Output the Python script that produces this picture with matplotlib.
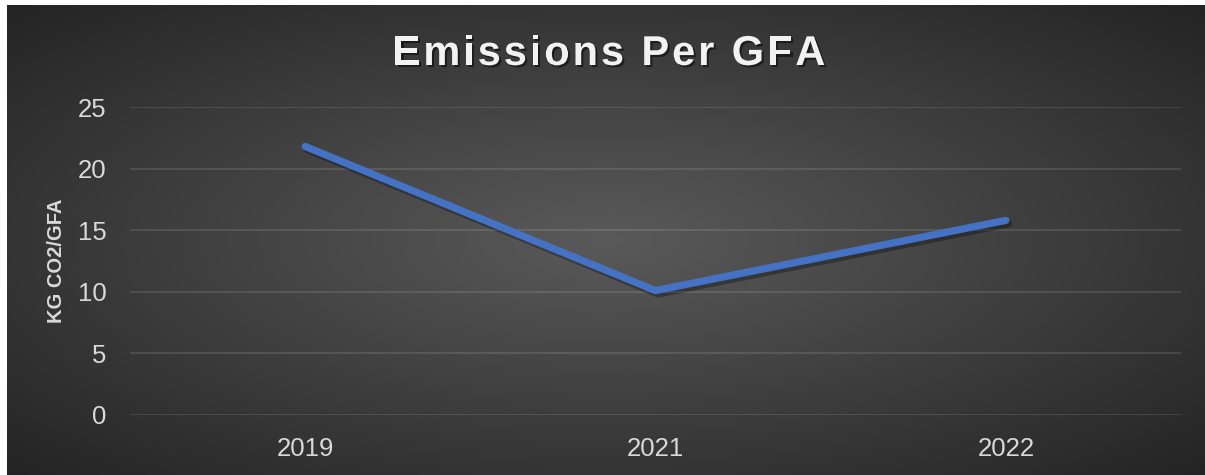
import numpy as np
import matplotlib
matplotlib.use("Agg")
import matplotlib.pyplot as plt
import matplotlib.patheffects as pe
from matplotlib import font_manager as fm
from matplotlib.font_manager import FontProperties

plt.rcParams["font.family"] = ["Liberation Sans", "DejaVu Sans"]

# Data
years = ["2019", "2021", "2022"]
emissions = [21.8, 10.1, 15.8]
y_ticks = [0, 5, 10, 15, 20, 25]
title = "Emissions Per GFA"

W, H = 1205, 475
DPI = 100
fig = plt.figure(figsize=(W / DPI, H / DPI), dpi=DPI)
fig.patch.set_facecolor("white")

# Dark radial-gradient chart panel
bg = fig.add_axes([7 / W, 0, 1 - 7 / W, 1 - 5 / H])
bg.set_axis_off()
ny, nx = 240, 600
yy, xx = np.mgrid[-1:1:ny * 1j, -1:1:nx * 1j]
r = np.clip(np.sqrt(xx ** 2 + yy ** 2) / np.sqrt(2), 0, 1)
center = np.array([90, 90, 90]) / 255.0
edge = np.array([36, 36, 36]) / 255.0
img = center[None, None, :] * (1 - r[..., None]) + edge[None, None, :] * r[..., None]
bg.imshow(img, extent=[0, 1, 0, 1], aspect="auto", interpolation="bilinear")
bg.set_xlim(0, 1)
bg.set_ylim(0, 1)

# Plot area
ax = fig.add_axes([130 / W, 1 - 415 / H, (1181 - 130) / W, (415 - 107) / H])
ax.set_facecolor("none")
x = np.arange(len(years))
ax.plot(x, emissions, color="#4472C4", linewidth=5.2, solid_capstyle="round",
        solid_joinstyle="round",
        path_effects=[pe.SimpleLineShadow(offset=(2, -2.5), shadow_color="black", alpha=0.3),
                      pe.Normal()], zorder=3)

ax.set_xlim(-0.5, len(years) - 0.5)
ax.set_ylim(0, 25)
ax.set_yticks(y_ticks)
ax.set_xticks(x)
ax.set_xticklabels(years)
ax.grid(axis="y", color="white", alpha=0.13, linewidth=1.2)
ax.set_axisbelow(True)
for s in ax.spines.values():
    s.set_visible(False)
ax.tick_params(axis="both", length=0, labelsize=18.5, colors="#D9D9D9")
ax.tick_params(axis="y", pad=17)
ax.tick_params(axis="x", pad=16)

ax.set_ylabel("KG CO2/GFA", fontsize=14.5, fontweight="bold", color="#D9D9D9")
ax.yaxis.set_label_coords(-(130 - 66) / (1181 - 130), (415 - 261) / (415 - 107))

# Letter-spaced bold title, laid out glyph by glyph
title_size = 30
title_font = fm.get_font(fm.findfont(FontProperties(family="Liberation Sans", weight="bold")))
title_font.set_size(title_size, DPI)
advances = [title_font.load_char(ord(c)).linearHoriAdvance / 65536.0 for c in title]
spacing = 2.9
total = sum(advances) + spacing * (len(title) - 1)
x0 = 609 - total / 2
baseline = 65
shadow = [pe.SimplePatchShadow(offset=(1.5, -1.5), shadow_rgbFace="black", alpha=0.5), pe.Normal()]
for c, adv in zip(title, advances):
    if c != " ":
        fig.text(x0 / W, 1 - baseline / H, c, ha="left", va="baseline",
                 fontsize=title_size, fontweight="bold", color="#F2F2F2",
                 path_effects=shadow)
    x0 += adv + spacing

fig.savefig("out.png", dpi=DPI, facecolor=fig.get_facecolor())
